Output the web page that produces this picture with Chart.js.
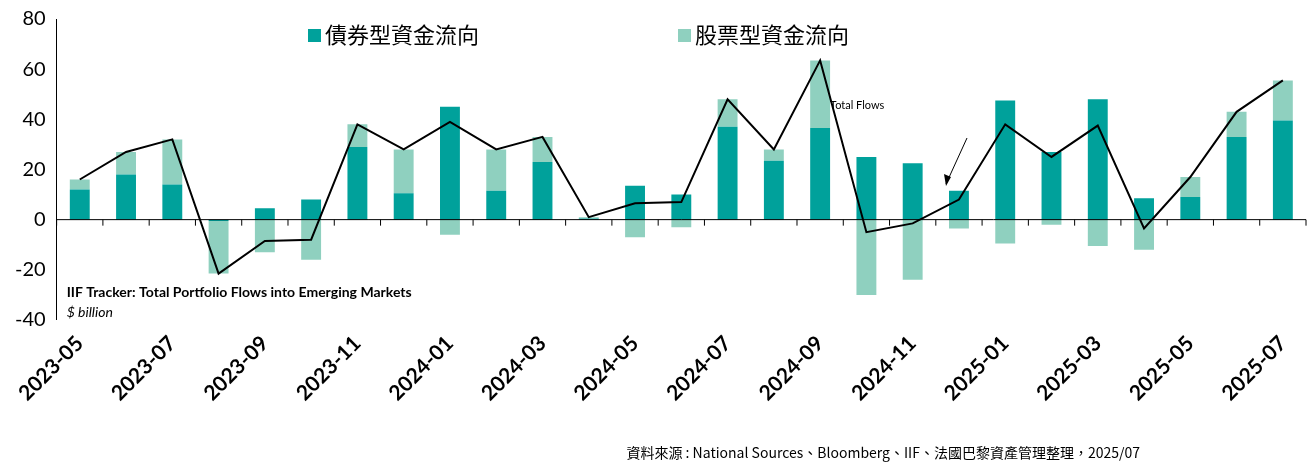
<!DOCTYPE html>
<html><head><meta charset="utf-8">
<script src="https://cdn.jsdelivr.net/npm/chart.js@4"></script>
<style>body{margin:0;background:#fff}#wrap{width:1312px;height:465px}</style>
</head><body><div id="wrap"><canvas id="c"></canvas></div>
<script>
const months = ['2023-05','2023-06','2023-07','2023-08','2023-09','2023-10','2023-11','2023-12','2024-01','2024-02','2024-03','2024-04','2024-05','2024-06','2024-07','2024-08','2024-09','2024-10','2024-11','2024-12','2025-01','2025-02','2025-03','2025-04','2025-05','2025-06','2025-07'];
const bondFlows = [12,18,14,-0.5,4.5,8,29,10.5,45,11.5,23,0.5,13.5,10,37,23.5,36.5,25,22.5,11.5,47.5,27,48,8.5,9,33,39.5];
const equityFlows = [4,9,18,-21,-13,-16,9,17.5,-6,16.5,10,0.5,-7,-3,11,4.5,27,-30,-24,-3.5,-9.5,-2,-10.5,-12,8,10,16];
const totalFlows = bondFlows.map((b, i) => b + equityFlows[i]);

const extras = {
  id: 'extras',
  afterDatasetsDraw(chart) {
    const {ctx, scales: {x, y}, chartArea} = chart;
    ctx.save();
    const y0 = y.getPixelForValue(0);
    const step = x.getPixelForValue(1) - x.getPixelForValue(0);
    ctx.strokeStyle = '#000'; ctx.lineWidth = 1;
    ctx.beginPath(); ctx.moveTo(chartArea.left, y0); ctx.lineTo(chartArea.right, y0); ctx.stroke();
    for (let i = 0; i <= months.length; i++) {
      const px = x.getPixelForValue(i) - step / 2;
      ctx.beginPath(); ctx.moveTo(px, y0); ctx.lineTo(px, y0 + 6); ctx.stroke();
    }
    // legend
    const legend = [['債券型資金流向', '#00A19B', 308], ['股票型資金流向', '#8FD0BF', 678]];
    ctx.font = '22px "Noto Sans CJK TC"';
    ctx.textBaseline = 'middle';
    legend.forEach(([t, c, lx]) => {
      ctx.fillStyle = c; ctx.fillRect(lx, 29, 13, 13);
      ctx.fillStyle = '#000'; ctx.fillText(t, lx + 17, 35);
    });
    ctx.textBaseline = 'alphabetic';
    ctx.fillStyle = '#000';
    ctx.font = 'bold 14px Lato';
    ctx.fillText('IIF Tracker: Total Portfolio Flows into Emerging Markets', chartArea.left + 10, y.getPixelForValue(-31));
    ctx.font = 'italic 14px Lato';
    ctx.fillText('$ billion', chartArea.left + 10, y.getPixelForValue(-39));
    ctx.font = '11px Lato';
    ctx.fillText('Total Flows', 830, 109);
    ctx.beginPath(); ctx.moveTo(967, 138); ctx.lineTo(946, 184); ctx.stroke();
    ctx.beginPath(); ctx.moveTo(946, 186); ctx.lineTo(944, 174); ctx.lineTo(951, 177); ctx.closePath(); ctx.fill();
    ctx.font = '14px "Noto Sans CJK TC"';
    ctx.textAlign = 'right';
    ctx.fillText('資料來源 : National Sources、Bloomberg、IIF、法國巴黎資產管理整理，2025/07', 1140, 458);
    ctx.restore();
  }
};

new Chart(document.getElementById('c'), {
  data: {
    labels: months,
    datasets: [
      {type: 'line', label: 'Total Flows', data: totalFlows, borderColor: '#000', borderWidth: 2, pointRadius: 0, tension: 0, order: 0},
      {type: 'bar', label: '債券型資金流向', data: bondFlows, backgroundColor: '#00A19B', stack: 's', barPercentage: 0.43, categoryPercentage: 1, order: 1},
      {type: 'bar', label: '股票型資金流向', data: equityFlows, backgroundColor: '#8FD0BF', stack: 's', barPercentage: 0.43, categoryPercentage: 1, order: 1}
    ]
  },
  options: {
    responsive: true,
    maintainAspectRatio: false,
    animation: false,
    layout: {padding: {top: 19, right: 6, bottom: 56, left: 12}},
    plugins: {legend: {display: false}, tooltip: {enabled: false}},
    scales: {
      x: {
        stacked: true,
        grid: {display: false},
        border: {display: false},
        ticks: {
          color: '#000', maxRotation: 45, minRotation: 45, autoSkip: false,
          font: {size: 21, weight: 'bold', family: 'Lato'},
          callback: (v, i) => i % 2 === 0 ? months[i] : ''
        }
      },
      y: {
        stacked: true, min: -40, max: 80,
        ticks: {stepSize: 20, color: '#000', font: {size: 20, family: 'Lato'}},
        grid: {display: false},
        border: {display: true, color: '#000'}
      }
    }
  },
  plugins: [extras]
});
</script></body></html>
